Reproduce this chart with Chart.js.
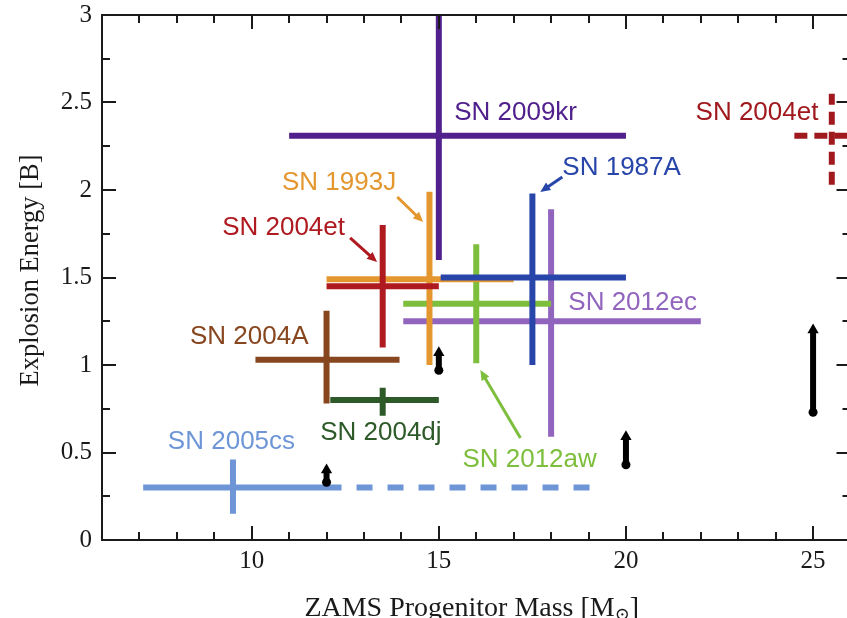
<!DOCTYPE html>
<html>
<head>
<meta charset="utf-8">
<script src="https://cdn.jsdelivr.net/npm/chart.js@4"></script>
<style>
  html, body { margin: 0; padding: 0; background: #fff; overflow: hidden; }
  #wrap { width: 847px; height: 618px; overflow: hidden; position: relative; }
  canvas { display: block; width: 857px; height: 618px; }
</style>
</head>
<body>
<div id="wrap"><canvas id="chart" width="857" height="618"></canvas></div>
<script>
// Supernova progenitors: mass range (horizontal bar) and explosion-energy range (vertical bar)
const names        = ['SN 2005cs', 'SN 2004dj', 'SN 2004A', 'SN 2012ec', 'SN 2012aw', 'SN 1993J', 'SN 2004et', 'SN 1987A', 'SN 2009kr', 'SN 2004et'];
const massCenter   = [9.5, 13.5, 12, 18, 16, 14.75, 13.5, 17.5, 15, 25.5];
const massLow      = [7.1, 12.1, 10.1, 14.05, 14.05, 12, 12, 15.05, 11, 24.5];
const massHigh     = [12.4, 15, 13.95, 22, 18, 17, 15, 20, 20, 26.5];
const massExtended = [19.05, null, null, null, null, null, null, null, null, null];
const energyCenter = [0.30, 0.80, 1.03, 1.25, 1.35, 1.49, 1.45, 1.50, 2.31, 2.31];
const energyLow    = [0.15, 0.71, 0.78, 0.59, 1.01, 1.00, 1.10, 1.00, 1.60, 2.03];
const energyHigh   = [0.46, 0.87, 1.31, 1.89, 1.69, 1.99, 1.80, 1.98, 3.05, 2.55];
const dashedEntry  = [false, false, false, false, false, false, false, false, false, true];
const colors       = ['#6e96d7', '#2d5a28', '#87461e', '#9164be', '#7dbe3c', '#e4962f', '#af1a20', '#2846aa', '#50208c', '#a0191e'];

// Label anchors (left edge, vertical middle) and leader arrows, in data units
const labelMass    = [7.76, 11.83, 8.35, 18.46, 15.63, 10.81, 9.21, 18.30, 15.41, 21.86];
const labelEnergy  = [0.56, 0.61, 1.16, 1.355, 0.457, 2.04, 1.783, 2.126, 2.44, 2.44];
const leaderFromM  = [null, null, null, null, 17.18, 13.89, 12.63, 18.30, null, null];
const leaderFromE  = [null, null, null, null, 0.583, 1.96, 1.726, 2.074, null, null];
const leaderToM    = [null, null, null, null, 16.11, 14.58, 13.35, 17.71, null, null];
const leaderToE    = [null, null, null, null, 0.971, 1.817, 1.589, 1.989, null, null];

// Lower limits on the explosion energy
const limitMass    = [12, 15, 20, 25];
const limitLow     = [0.33, 0.97, 0.43, 0.73];
const limitHigh    = [0.40, 1.07, 0.59, 1.20];

// Axis ticks and titles
const xTickLabels  = [10, 15, 20, 25];
const yTickLabels  = [0, 0.5, 1, 1.5, 2, 2.5, 3];
const xTitle       = ['ZAMS Progenitor Mass [M', '\u2299', ']'];
const yTitle       = 'Explosion Energy [B]';

const datasets = [];
function addSegment(points, color, dash, dashOffset) {
  datasets.push({
    data: points,
    showLine: true,
    borderColor: color,
    backgroundColor: color,
    borderWidth: 6,
    borderCapStyle: 'butt',
    borderDash: dash || [],
    borderDashOffset: dashOffset || 0,
    pointRadius: 0,
    pointHoverRadius: 0
  });
}
names.forEach((n, i) => {
  const dash = dashedEntry[i] ? [13, 7] : null;
  addSegment([{ x: massLow[i], y: energyCenter[i] }, { x: massHigh[i], y: energyCenter[i] }], colors[i], dash);
  if (massExtended[i] !== null) {
    addSegment([{ x: massHigh[i], y: energyCenter[i] }, { x: massExtended[i], y: energyCenter[i] }], colors[i], [16, 15], 16);
  }
  addSegment([{ x: massCenter[i], y: energyLow[i] }, { x: massCenter[i], y: energyHigh[i] }], colors[i], dash);
});
limitMass.forEach((m, i) => {
  datasets.push({
    data: [{ x: m, y: limitLow[i] }, { x: m, y: limitHigh[i] }],
    showLine: true,
    borderColor: '#000',
    backgroundColor: '#000',
    borderWidth: 6,
    borderCapStyle: 'butt',
    pointStyle: ['circle', 'triangle'],
    pointRadius: [4.5, 6.5],
    pointBorderWidth: 0,
    pointBackgroundColor: '#000',
    pointHoverRadius: 0
  });
});
datasets.forEach((d, i) => { d.order = -i; });

const isMultiple = (v, step) => Math.abs(v / step - Math.round(v / step)) < 1e-6;
const serif = '"Liberation Serif", "Times New Roman", serif';

// Boxed frame with inward ticks on all four sides, labels and axis titles
const framePlugin = {
  id: 'frame',
  afterDraw(chart) {
    const { ctx, chartArea: a, scales: { x, y } } = chart;
    ctx.save();
    ctx.strokeStyle = '#1a1a1a';
    ctx.lineWidth = 2;
    ctx.beginPath();
    x.ticks.forEach(t => {
      if (t.value <= x.min || t.value >= x.max) return;
      const px = Math.round(x.getPixelForValue(t.value));
      const len = xTickLabels.includes(t.value) ? 14 : 8;
      ctx.moveTo(px, a.bottom); ctx.lineTo(px, a.bottom - len);
      ctx.moveTo(px, a.top); ctx.lineTo(px, a.top + len);
    });
    y.ticks.forEach(t => {
      if (t.value <= y.min || t.value >= y.max) return;
      const py = Math.round(y.getPixelForValue(t.value));
      const len = isMultiple(t.value, 0.5) ? 14 : 8;
      ctx.moveTo(a.left, py); ctx.lineTo(a.left + len, py);
      ctx.moveTo(a.right, py); ctx.lineTo(a.right - len, py);
    });
    ctx.stroke();
    ctx.strokeRect(a.left, a.top, a.right - a.left, a.bottom - a.top);

    // supernova names and leader arrows
    ctx.font = '26px "Liberation Sans", Arial, sans-serif';
    ctx.textAlign = 'left';
    ctx.textBaseline = 'middle';
    names.forEach((n, i) => {
      ctx.fillStyle = colors[i];
      ctx.fillText(n, x.getPixelForValue(labelMass[i]), y.getPixelForValue(labelEnergy[i]));
      if (leaderFromM[i] !== null) {
        const x0 = x.getPixelForValue(leaderFromM[i]), y0 = y.getPixelForValue(leaderFromE[i]);
        const x1 = x.getPixelForValue(leaderToM[i]), y1 = y.getPixelForValue(leaderToE[i]);
        const ang = Math.atan2(y1 - y0, x1 - x0);
        const head = 10, half = 4.5;
        ctx.strokeStyle = colors[i];
        ctx.lineWidth = 3;
        ctx.beginPath();
        ctx.moveTo(x0, y0);
        ctx.lineTo(x1 - Math.cos(ang) * head * 0.8, y1 - Math.sin(ang) * head * 0.8);
        ctx.stroke();
        ctx.beginPath();
        ctx.moveTo(x1, y1);
        ctx.lineTo(x1 - Math.cos(ang) * head - Math.sin(ang) * half, y1 - Math.sin(ang) * head + Math.cos(ang) * half);
        ctx.lineTo(x1 - Math.cos(ang) * head + Math.sin(ang) * half, y1 - Math.sin(ang) * head - Math.cos(ang) * half);
        ctx.closePath();
        ctx.fillStyle = colors[i];
        ctx.fill();
      }
    });

    // x-axis title with subscripted solar symbol
    const fMain = '28px ' + serif;
    const fSub = '18px "DejaVu Serif", ' + serif;
    ctx.fillStyle = '#1a1a1a';
    ctx.textBaseline = 'alphabetic';
    ctx.font = fMain;
    const wMain = ctx.measureText(xTitle[0]).width;
    const wClose = ctx.measureText(xTitle[2]).width;
    ctx.font = fSub;
    const wSub = ctx.measureText(xTitle[1]).width;
    const total = wMain + wSub + wClose;
    let cx = (a.left + a.right) / 2 - 4.5 - total / 2;
    const base = 616;
    ctx.font = fMain;
    ctx.fillText(xTitle[0], cx, base);
    cx += wMain;
    ctx.font = fSub;
    ctx.fillText(xTitle[1], cx, base + 4);
    cx += wSub;
    ctx.font = fMain;
    ctx.fillText(xTitle[2], cx, base);

    // y-axis title, rotated
    ctx.translate(31, (a.top + a.bottom) / 2 - 7);
    ctx.rotate(-Math.PI / 2);
    ctx.font = '26.5px ' + serif;
    ctx.textAlign = 'center';
    ctx.textBaseline = 'middle';
    ctx.fillText(yTitle, 0, 0);
    ctx.restore();
  }
};

const tickFont = { family: serif, size: 25 };

new Chart(document.getElementById('chart'), {
  type: 'scatter',
  data: { datasets },
  options: {
    responsive: false,
    animation: false,
    devicePixelRatio: 1,
    // the plot box runs a few pixels past the visible right edge
    layout: { padding: { top: 15, right: 0, left: 0, bottom: 0 } },
    plugins: { legend: { display: false }, tooltip: { enabled: false } },
    scales: {
      x: {
        type: 'linear',
        min: 6,
        max: 26,
        grid: { display: false, drawTicks: false },
        border: { display: false },
        ticks: {
          stepSize: 1,
          autoSkip: false,
          maxRotation: 0,
          padding: 6,
          color: '#1a1a1a',
          font: tickFont,
          callback: v => xTickLabels.includes(v) ? String(v) : ''
        },
        afterFit(scale) { scale.height = 78; scale.paddingLeft = 0; scale.paddingRight = 0; }
      },
      y: {
        type: 'linear',
        min: 0,
        max: 3,
        grid: { display: false, drawTicks: false },
        border: { display: false },
        ticks: {
          stepSize: 0.25,
          autoSkip: false,
          padding: 10,
          color: '#1a1a1a',
          font: tickFont,
          callback: v => yTickLabels.some(t => Math.abs(t - v) < 1e-6) ? String(Math.round(v * 10) / 10) : ''
        },
        afterFit(scale) { scale.width = 102; scale.paddingTop = 0; scale.paddingBottom = 0; }
      }
    }
  },
  plugins: [framePlugin]
});
</script>
</body>
</html>
